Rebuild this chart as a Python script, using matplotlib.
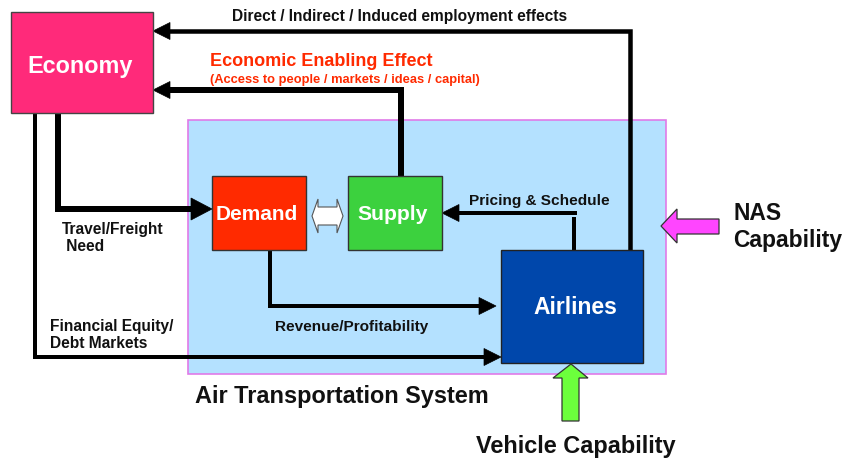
import matplotlib
matplotlib.use("Agg")
import matplotlib.pyplot as plt
from matplotlib.patches import Rectangle, Polygon

plt.rcParams['font.family'] = ['Liberation Sans', 'DejaVu Sans']

# ---- content ----
box_labels = ["Economy", "Demand", "Supply", "Airlines"]
flow_labels = ["Direct / Indirect / Induced employment effects",
               "Pricing & Schedule", "Revenue/Profitability"]
enabling_title = "Economic Enabling Effect"
enabling_sub = "(Access to people / markets / ideas / capital)"
left_labels = ["Travel/Freight\n Need", "Financial Equity/\nDebt Markets"]
system_label = "Air Transportation System"
external_labels = ["NAS\nCapability", "Vehicle Capability"]

W, H = 855, 459
fig = plt.figure(figsize=(W / 100, H / 100), dpi=100)
ax = fig.add_axes([0, 0, 1, 1])
ax.set_xlim(0, W)
ax.set_ylim(H, 0)
ax.axis('off')

PT = 72 / 100  # px -> pt


def box(x0, y0, x1, y1, fc, ec='#333333', lw=1.0, z=3):
    ax.add_patch(Rectangle((x0, y0), x1 - x0, y1 - y0, facecolor=fc,
                           edgecolor=ec, linewidth=lw, zorder=z))


def path(xs, ys, w):
    ax.plot(xs, ys, color='black', linewidth=w * PT, solid_capstyle='butt',
            solid_joinstyle='miter', zorder=2)


def head(tip, direction, L=17, hw=8.5):
    x, y = tip
    if direction == 'left':
        pts = [(x, y), (x + L, y - hw), (x + L, y + hw)]
    elif direction == 'right':
        pts = [(x, y), (x - L, y - hw), (x - L, y + hw)]
    ax.add_patch(Polygon(pts, closed=True, facecolor='black',
                         edgecolor='black', linewidth=0.5, zorder=2))


# Air Transportation System region
box(188, 120, 666, 374, '#B4E1FF', ec='#E07AE8', lw=1.2, z=0)

# flows
# employment effects: Airlines -> Economy
path([630, 630, 168], [250, 31, 31], 4.5)
head((153, 31), 'left')
# enabling effect: Supply -> Economy
path([401, 401, 168], [176, 90, 90], 6)
head((153, 90), 'left')
# travel/freight need: Economy -> Demand
path([58, 58, 192], [113, 209, 209], 6)
head((212, 209), 'right', L=21, hw=11)
# financial markets: Economy -> Airlines
path([35, 35, 485], [113, 357, 357], 4)
head((501, 357), 'right')
# revenue: Demand -> Airlines
path([270, 270, 480], [250, 306, 306], 4)
head((496, 306), 'right')
# pricing & schedule: Airlines -> Supply
path([574, 574], [250, 217], 4)
path([577, 457], [213, 213], 4)
head((442, 213), 'left')

# boxes
box(11, 12, 153, 113, '#FF2A7A', ec='#444444')
box(212, 176, 306, 250, '#FF2A00', ec='#333333')
box(348, 176, 442, 250, '#3CD13E', ec='#333333')
box(501, 250, 643, 363, '#0047AB', ec='#222222')

ax.text(80, 66, box_labels[0], color='white', fontsize=16.8,
        fontweight='bold', ha='center', va='center', zorder=5)
ax.text(257, 215, box_labels[1], color='white', fontsize=15,
        fontweight='bold', ha='center', va='center', zorder=5)
ax.text(393, 215, box_labels[2], color='white', fontsize=15.2,
        fontweight='bold', ha='center', va='center', zorder=5)
ax.text(575, 308, box_labels[3], color='white', fontsize=16.5,
        fontweight='bold', ha='center', va='center', zorder=5)

# double arrow demand <-> supply
dbl = [(312, 216), (318, 199), (318, 207), (337, 207), (337, 199), (343, 216),
       (337, 233), (337, 225), (318, 225), (318, 233)]
ax.add_patch(Polygon(dbl, closed=True, facecolor='white', edgecolor='#555555',
                     linewidth=0.8, zorder=4))

# NAS block arrow (pointing left)
nas = [(661, 226), (677, 209), (677, 219), (719, 219), (719, 234),
       (677, 234), (677, 243)]
ax.add_patch(Polygon(nas, closed=True, facecolor='#FF45FF', edgecolor='#333333',
                     linewidth=0.9, zorder=4))
# Vehicle block arrow (pointing up)
veh = [(571, 364), (588, 378), (579, 378), (579, 421), (562, 421),
       (562, 378), (553, 378)]
ax.add_patch(Polygon(veh, closed=True, facecolor='#6CFF3C', edgecolor='#333333',
                     linewidth=0.9, zorder=4))

# flow texts
ax.text(232, 16, flow_labels[0], fontsize=11.2, fontweight='bold',
        ha='left', va='center', color='#111111')
ax.text(469, 201, flow_labels[1], fontsize=11.1, fontweight='bold',
        ha='left', va='center', color='#111111', zorder=5)
ax.text(275, 327, flow_labels[2], fontsize=11.1, fontweight='bold',
        ha='left', va='center', color='#111111', zorder=5)
ax.text(210, 61, enabling_title, fontsize=13, fontweight='bold',
        ha='left', va='center', color='#FF2A00')
ax.text(210, 80, enabling_sub, fontsize=9.3, fontweight='bold',
        ha='left', va='center', color='#FF2A00')
ax.text(62, 238, left_labels[0], fontsize=11.2, fontweight='bold',
        ha='left', va='center', color='#111111', linespacing=1.15)
ax.text(50, 335, left_labels[1], fontsize=11.2, fontweight='bold',
        ha='left', va='center', color='#111111', linespacing=1.15)
ax.text(195, 396, system_label, fontsize=16.9, fontweight='bold',
        ha='left', va='center', color='#111111')
ax.text(733, 227, external_labels[0], fontsize=16.5, fontweight='bold',
        ha='left', va='center', color='#111111', linespacing=1.2)
ax.text(476, 446, external_labels[1], fontsize=16.9, fontweight='bold',
        ha='left', va='center', color='#111111')

fig.savefig('out.png', dpi=100)
